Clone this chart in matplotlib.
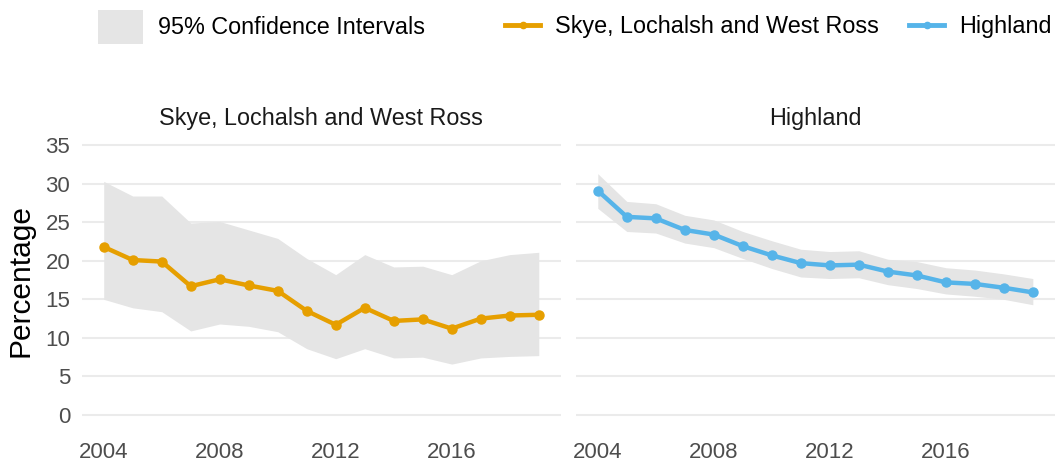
import matplotlib.pyplot as plt
from matplotlib.patches import Patch
from matplotlib.lines import Line2D

plt.rcParams['font.family'] = ['Liberation Sans', 'DejaVu Sans']

years = list(range(2004, 2020))

# Skye, Lochalsh and West Ross
skye = [21.8, 20.1, 19.9, 16.7, 17.6, 16.8, 16.1, 13.5, 11.7, 13.9, 12.2, 12.4, 11.2, 12.5, 12.9, 13.0]
skye_upper = [30.3, 28.4, 28.4, 24.9, 25.1, 24.0, 22.9, 20.3, 18.2, 20.8, 19.2, 19.3, 18.2, 20.0, 20.8, 21.1]
skye_lower = [15.0, 13.9, 13.4, 10.9, 11.8, 11.5, 10.8, 8.6, 7.3, 8.6, 7.4, 7.5, 6.6, 7.4, 7.6, 7.7]

# Highland
highland = [29.1, 25.7, 25.5, 24.0, 23.4, 21.9, 20.7, 19.7, 19.4, 19.5, 18.6, 18.1, 17.2, 17.0, 16.5, 15.9]
highland_upper = [31.3, 27.7, 27.4, 25.9, 25.3, 23.8, 22.6, 21.5, 21.2, 21.3, 20.2, 19.9, 19.1, 18.8, 18.3, 17.7]
highland_lower = [26.8, 23.8, 23.6, 22.3, 21.7, 20.3, 19.0, 17.9, 17.7, 17.8, 16.9, 16.4, 15.7, 15.4, 15.0, 14.3]

panels = [
    ('Skye, Lochalsh and West Ross', skye, skye_lower, skye_upper, '#E69F00'),
    ('Highland', highland, highland_lower, highland_upper, '#56B4E9'),
]

xticks = [2004, 2008, 2012, 2016]
yticks = [0, 5, 10, 15, 20, 25, 30, 35]

fig = plt.figure(figsize=(10.55, 4.66), dpi=100)
lefts = [0.0777, 0.546]

for i, (title, vals, lo, hi, col) in enumerate(panels):
    ax = fig.add_axes([lefts[i], 0.0805, 0.4536, 0.637])
    ax.fill_between(years, lo, hi, color='#e5e5e5', linewidth=0)
    ax.plot(years, vals, color=col, linewidth=3.2, marker='o', markersize=6.5)
    ax.set_xlim(2003.25, 2019.75)
    ax.set_ylim(-1.75, 36.75)
    ax.set_xticks(xticks)
    ax.set_yticks(yticks)
    ax.grid(axis='y', color='#ebebeb', linewidth=1.5)
    ax.set_axisbelow(True)
    for s in ax.spines.values():
        s.set_visible(False)
    ax.tick_params(length=0, labelsize=16, colors='#4d4d4d')
    ax.tick_params(axis='x', pad=10)
    ax.tick_params(axis='y', pad=8.5)
    ax.set_title(title, fontsize=16.8, color='#1a1a1a', pad=5)
    if i == 0:
        ax.set_ylabel('Percentage', fontsize=21.5, color='black', labelpad=8)
    else:
        ax.tick_params(labelleft=False)

# fill legend (CI) and colour legend (series) sit side by side as in ggplot
ci_handle = [Patch(facecolor='#e5e5e5', edgecolor='none')]
fig.legend(ci_handle, ['95% Confidence Intervals'], loc='center left',
           bbox_to_anchor=(98 / 1055, 1 - 27 / 466), frameon=False, fontsize=16.8,
           borderpad=0, borderaxespad=0, handlelength=1.93, handleheight=1.9,
           handletextpad=0.64)

line_handles = [
    Line2D([], [], color='#E69F00', linewidth=3.5, marker='o', markersize=4.5),
    Line2D([], [], color='#56B4E9', linewidth=3.5, marker='o', markersize=4.5),
]
fig.legend(line_handles, ['Skye, Lochalsh and West Ross', 'Highland'], loc='center left',
           bbox_to_anchor=(505 / 1055, 1 - 27 / 466), ncol=2, frameon=False, fontsize=16.8,
           borderpad=0, borderaxespad=0, handlelength=1.5, handletextpad=0.65,
           columnspacing=1.3)

fig.savefig('out.png', dpi=100, facecolor='white')
